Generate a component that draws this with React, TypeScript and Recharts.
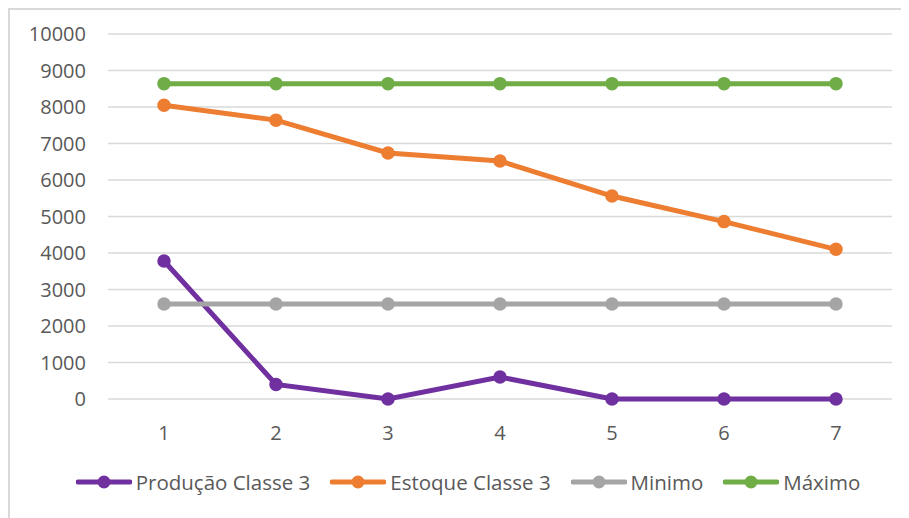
import React from 'react';
import { LineChart, Line, XAxis, YAxis, CartesianGrid, Legend } from 'recharts';

const periods = ['1', '2', '3', '4', '5', '6', '7'];
const producao = [3780, 400, 0, 600, 0, 0, 0];
const estoque = [8050, 7640, 6740, 6520, 5560, 4860, 4100];
const minimo = [2600, 2600, 2600, 2600, 2600, 2600, 2600];
const maximo = [8640, 8640, 8640, 8640, 8640, 8640, 8640];
const yTicks = [0, 1000, 2000, 3000, 4000, 5000, 6000, 7000, 8000, 9000, 10000];

const seriesInfo = [
  { key: 'producao', name: 'Produção Classe 3', color: '#7030a0' },
  { key: 'estoque', name: 'Estoque Classe 3', color: '#ed7d31' },
  { key: 'minimo', name: 'Minimo', color: '#a5a5a5' },
  { key: 'maximo', name: 'Máximo', color: '#70ad47' },
];

const data = periods.map((p, i) => ({
  period: p,
  producao: producao[i],
  estoque: estoque[i],
  minimo: minimo[i],
  maximo: maximo[i],
}));

const FONT = '"Open Sans", sans-serif';

function LegendContent() {
  return (
    <div
      style={{
        display: 'flex',
        justifyContent: 'center',
        alignItems: 'center',
        height: 28,
        gap: 20,
        fontFamily: FONT,
        fontSize: 20.5,
        color: '#595959',
      }}
    >
      {seriesInfo.map((s) => (
        <div key={s.key} style={{ display: 'flex', alignItems: 'center' }}>
          <svg width={56} height={16}>
            <line x1={2} y1={8} x2={54} y2={8} stroke={s.color} strokeWidth={5} strokeLinecap="round" />
            <circle cx={28} cy={8} r={6.5} fill={s.color} />
          </svg>
          <span style={{ marginLeft: 4, whiteSpace: 'nowrap' }}>{s.name}</span>
        </div>
      ))}
    </div>
  );
}

export default function App() {
  return (
    <div
      style={{
        width: 893,
        height: 510,
        boxSizing: 'border-box',
        borderTop: '2px solid #d9d9d9',
        borderLeft: '2px solid #d9d9d9',
        overflow: 'hidden',
        background: '#fff',
      }}
    >
      <LineChart
        width={916}
        height={508}
        data={data}
        margin={{ top: 24, right: 34, left: 0, bottom: 22 }}
      >
        <CartesianGrid vertical={false} stroke="#d9d9d9" strokeWidth={1.5} />
        <XAxis
          dataKey="period"
          scale="band"
          axisLine={false}
          tickLine={false}
          tickSize={0}
          tickMargin={27}
          height={69}
          tick={{ fill: '#595959', fontSize: 20, fontFamily: FONT }}
        />
        <YAxis
          domain={[0, 10000]}
          ticks={yTicks}
          axisLine={false}
          tickLine={false}
          tickSize={0}
          tickMargin={22}
          width={98}
          tick={{ fill: '#595959', fontSize: 20, fontFamily: FONT }}
        />
        <Legend
          verticalAlign="bottom"
          content={<LegendContent />}
          wrapperStyle={{ left: 0, width: 916 }}
        />
        {seriesInfo.map((s) => (
          <Line
            key={s.key}
            type="linear"
            dataKey={s.key}
            name={s.name}
            stroke={s.color}
            strokeWidth={5}
            dot={{ r: 6, fill: s.color, stroke: s.color, strokeWidth: 1.5 }}
            activeDot={false}
            isAnimationActive={false}
          />
        ))}
      </LineChart>
    </div>
  );
}
